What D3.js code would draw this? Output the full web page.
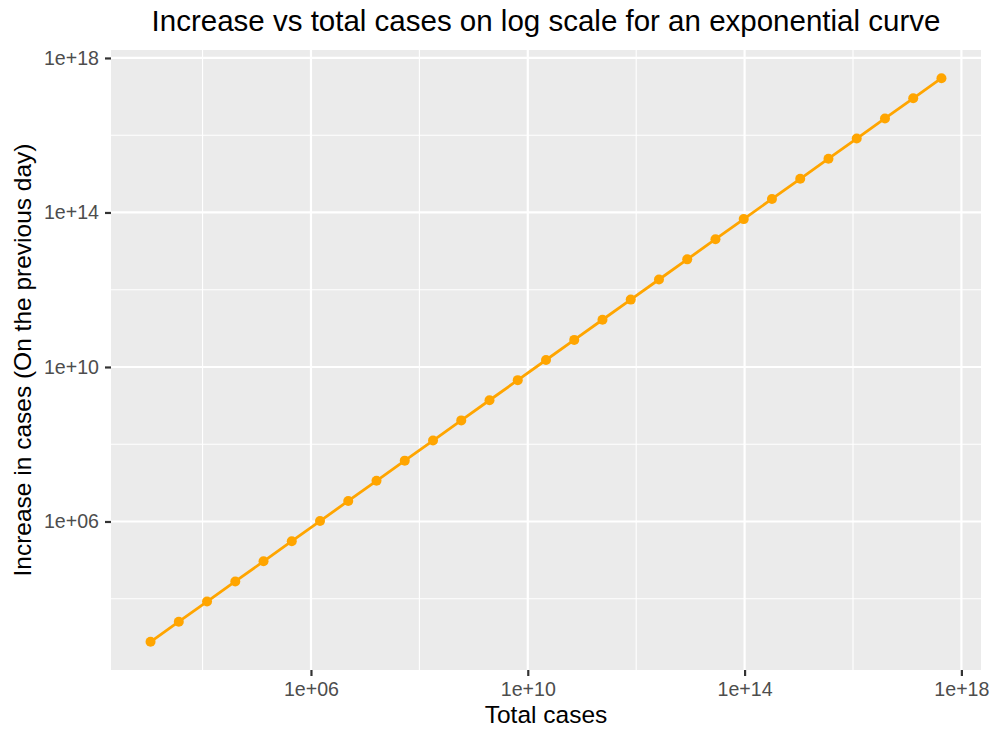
<!DOCTYPE html>
<html>
<head>
<meta charset="utf-8">
<script src="https://cdn.jsdelivr.net/npm/d3@7"></script>
<style>
  body { margin: 0; background: #fff; }
  svg { font-family: "Liberation Sans", Arial, Helvetica, sans-serif; }
</style>
</head>
<body>
<div id="chart"></div>
<script>
// total cases (x) and increase on the previous day (y)
var totalCases = [1097, 3641, 12088, 40135, 133252, 442413, 1.469e6, 4.877e6, 1.619e7, 5.376e7,
    1.785e8, 5.925e8, 1.967e9, 6.531e9, 2.168e10, 7.199e10, 2.390e11, 7.935e11, 2.635e12, 8.748e12,
    2.904e13, 9.643e13, 3.201e14, 1.063e15, 3.529e15, 1.172e16, 3.890e16, 1.292e17, 4.288e17];
var increase = [767, 2544, 8447, 28046, 93117, 309158, 1.026e6, 3.408e6, 1.131e7, 3.757e7,
    1.247e8, 4.140e8, 1.375e9, 4.564e9, 1.515e10, 5.031e10, 1.670e11, 5.545e11, 1.841e12, 6.113e12,
    2.029e13, 6.739e13, 2.237e14, 7.428e14, 2.466e15, 8.190e15, 2.718e16, 9.028e16, 2.996e17];
var majorTicks = [1e6, 1e10, 1e14, 1e18];
var minorTicks = [1e4, 1e8, 1e12, 1e16];
var tickLabels = ["1e+06", "1e+10", "1e+14", "1e+18"];

var width = 992, height = 729;
var margin = { left: 111, right: 11, top: 50, bottom: 59 };
var w = width - margin.left - margin.right;
var h = height - margin.top - margin.bottom;

var data = totalCases.map(function(d, i) { return { x: d, y: increase[i] }; });

// ggplot style 5% padding on a log scale
function padded(vals) {
    var lo = Math.log10(d3.min(vals)), hi = Math.log10(d3.max(vals));
    var p = (hi - lo) * 0.05;
    return [Math.pow(10, lo - p), Math.pow(10, hi + p)];
}

var x = d3.scaleLog().domain(padded(totalCases)).range([0, w]);
var y = d3.scaleLog().domain(padded(increase)).range([h, 0]);

var svg = d3.select("#chart").append("svg")
    .attr("width", width)
    .attr("height", height);

var g = svg.append("g")
    .attr("transform", "translate(" + margin.left + "," + margin.top + ")");

g.append("rect")
    .attr("width", w)
    .attr("height", h)
    .attr("fill", "#EBEBEB");

// minor grid
g.selectAll(".minx").data(minorTicks).enter().append("line")
    .attr("x1", d => x(d)).attr("x2", d => x(d))
    .attr("y1", 0).attr("y2", h)
    .attr("stroke", "#fff").attr("stroke-width", 1.1);
g.selectAll(".miny").data(minorTicks).enter().append("line")
    .attr("y1", d => y(d)).attr("y2", d => y(d))
    .attr("x1", 0).attr("x2", w)
    .attr("stroke", "#fff").attr("stroke-width", 1.1);

// major grid
g.selectAll(".majx").data(majorTicks).enter().append("line")
    .attr("x1", d => x(d)).attr("x2", d => x(d))
    .attr("y1", 0).attr("y2", h)
    .attr("stroke", "#fff").attr("stroke-width", 2.2);
g.selectAll(".majy").data(majorTicks).enter().append("line")
    .attr("y1", d => y(d)).attr("y2", d => y(d))
    .attr("x1", 0).attr("x2", w)
    .attr("stroke", "#fff").attr("stroke-width", 2.2);

// axes
var xAxis = d3.axisBottom(x).tickValues(majorTicks)
    .tickFormat((d, i) => tickLabels[i]).tickSize(6).tickPadding(6);
var yAxis = d3.axisLeft(y).tickValues(majorTicks)
    .tickFormat((d, i) => tickLabels[i]).tickSize(6).tickPadding(6);

var gx = g.append("g").attr("transform", "translate(0," + h + ")").call(xAxis);
var gy = g.append("g").call(yAxis);
[gx, gy].forEach(function(a) {
    a.select(".domain").remove();
    a.selectAll(".tick line").attr("stroke", "#333").attr("stroke-width", 2.2);
    a.selectAll(".tick text").attr("fill", "#4D4D4D")
        .style("font-size", "19.6px").style("font-family", "'Liberation Sans', Arial, sans-serif");
});

// line + points
var line = d3.line().x(d => x(d.x)).y(d => y(d.y));
g.append("path")
    .datum(data)
    .attr("d", line)
    .attr("fill", "none")
    .attr("stroke", "#FFA500")
    .attr("stroke-width", 2.8);

g.selectAll(".pt").data(data).enter().append("circle")
    .attr("cx", d => x(d.x))
    .attr("cy", d => y(d.y))
    .attr("r", 5)
    .attr("fill", "#FFA500");

// titles
svg.append("text")
    .attr("x", margin.left + w / 2)
    .attr("y", 31)
    .attr("text-anchor", "middle")
    .style("font-size", "29.5px")
    .text("Increase vs total cases on log scale for an exponential curve");

svg.append("text")
    .attr("x", margin.left + w / 2)
    .attr("y", 723)
    .attr("text-anchor", "middle")
    .style("font-size", "24.5px")
    .text("Total cases");

svg.append("text")
    .attr("transform", "translate(31," + (margin.top + h / 2) + ") rotate(-90)")
    .attr("text-anchor", "middle")
    .style("font-size", "24.5px")
    .text("Increase in cases (On the previous day)");
</script>
</body>
</html>
